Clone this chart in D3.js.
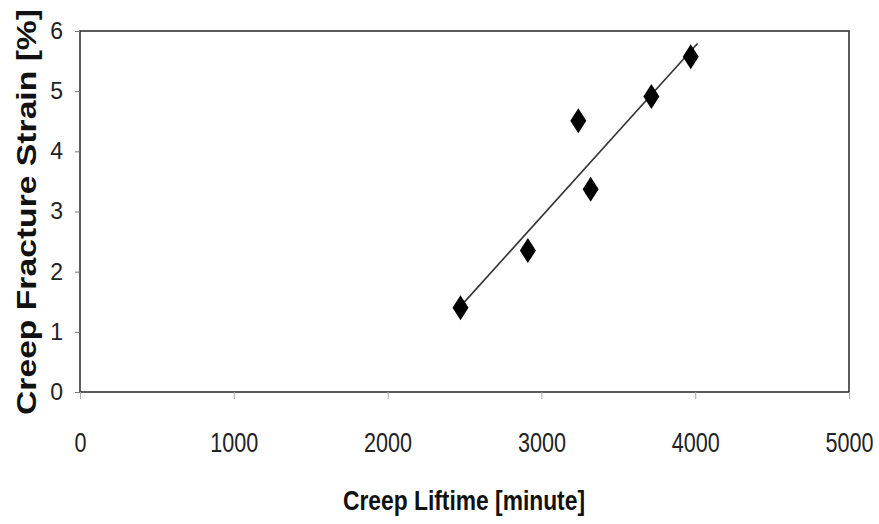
<!DOCTYPE html>
<html>
<head>
<meta charset="utf-8">
<script src="https://cdn.jsdelivr.net/npm/d3@7"></script>
<style>
  body { margin: 0; background: #fff; }
  svg { display: block; }
  .tick text { fill: #222; }
</style>
</head>
<body>
<div id="chart"></div>
<script>
(function() {
  // creep tests: liftime (minute) vs fracture strain (%)
  var liftime = [2474, 2912, 3240, 3320, 3715, 3971];
  var strain  = [1.40, 2.35, 4.51, 3.37, 4.91, 5.57];
  var trendRange = [2474, 4015];

  var xTicks = [0, 1000, 2000, 3000, 4000, 5000];
  var yTicks = [0, 1, 2, 3, 4, 5, 6];

  var W = 879, H = 524;
  var margin = { left: 80, right: 30, top: 31, bottom: 132 };

  var svg = d3.select("#chart").append("svg")
    .attr("width", W)
    .attr("height", H);

  var x = d3.scaleLinear().domain([0, 5000]).range([margin.left, W - margin.right]);
  var y = d3.scaleLinear().domain([0, 6]).range([H - margin.bottom, margin.top]);

  // plot frame
  svg.append("rect")
    .attr("x", x(0))
    .attr("y", y(6))
    .attr("width", x(5000) - x(0))
    .attr("height", y(0) - y(6))
    .attr("fill", "none")
    .attr("stroke", "#333")
    .attr("stroke-width", 1.6);

  // {{{ axes
  var xAxis = d3.axisBottom(x)
    .tickValues(xTicks)
    .tickSize(7)
    .tickPadding(34)
    .tickFormat(d3.format("d"));

  svg.append("g")
    .attr("transform", "translate(0," + y(0) + ")")
    .call(xAxis)
    .call(function(g) {
      g.select(".domain").remove();
      g.selectAll(".tick line").attr("stroke", "#aaa");
      // narrow look: squeeze labels horizontally
      g.selectAll(".tick text")
        .attr("font-family", "'Liberation Sans', Arial, sans-serif")
        .attr("font-size", 27)
        .attr("transform", "scale(0.8,1)");
    });

  var yAxis = d3.axisLeft(y)
    .tickValues(yTicks)
    .tickSize(5)
    .tickPadding(12)
    .tickFormat(d3.format("d"));

  svg.append("g")
    .attr("transform", "translate(" + x(0) + ",0)")
    .call(yAxis)
    .call(function(g) {
      g.select(".domain").remove();
      g.selectAll(".tick line").attr("stroke", "#777");
      g.selectAll(".tick text")
        .attr("font-family", "'Liberation Sans', Arial, sans-serif")
        .attr("font-size", 23);
    });
  // }}}

  // {{{ linear trend (least squares)
  var mx = d3.mean(liftime), my = d3.mean(strain);
  var sxy = d3.sum(liftime, function(v, i) { return (v - mx) * (strain[i] - my); });
  var sxx = d3.sum(liftime, function(v) { return (v - mx) * (v - mx); });
  var slope = sxy / sxx;
  var icpt = my - slope * mx;

  svg.append("path")
    .datum(trendRange)
    .attr("d", d3.line()
      .x(function(d) { return x(d); })
      .y(function(d) { return y(icpt + slope * d); }))
    .attr("fill", "none")
    .attr("stroke", "#333")
    .attr("stroke-width", 1.6);
  // }}}

  // markers: tall diamonds like the excel ones
  var tallDiamond = {
    draw: function(ctx) {
      ctx.moveTo(0, -12.5);
      ctx.lineTo(8, 0);
      ctx.lineTo(0, 12.5);
      ctx.lineTo(-8, 0);
      ctx.closePath();
    }
  };
  svg.selectAll("path.pt")
    .data(liftime)
    .enter()
    .append("path")
      .attr("class", "pt")
      .attr("d", d3.symbol().type(tallDiamond))
      .attr("transform", function(d, i) {
        return "translate(" + x(d) + "," + y(strain[i]) + ")";
      })
      .attr("fill", "#000");

  // titles
  svg.append("text")
    .attr("x", 464)
    .attr("y", 510)
    .attr("text-anchor", "middle")
    .attr("font-family", "'Liberation Sans', Arial, sans-serif")
    .attr("font-weight", "bold")
    .attr("font-size", 27)
    .attr("textLength", 242)
    .attr("lengthAdjust", "spacingAndGlyphs")
    .attr("fill", "#111")
    .text("Creep Liftime [minute]");

  svg.append("text")
    .attr("transform", "translate(36,212) rotate(-90)")
    .attr("text-anchor", "middle")
    .attr("font-family", "'Liberation Sans', Arial, sans-serif")
    .attr("font-weight", "bold")
    .attr("font-size", 27)
    .attr("textLength", 406)
    .attr("lengthAdjust", "spacingAndGlyphs")
    .attr("fill", "#111")
    .text("Creep Fracture Strain [%]");
})();
</script>
</body>
</html>
